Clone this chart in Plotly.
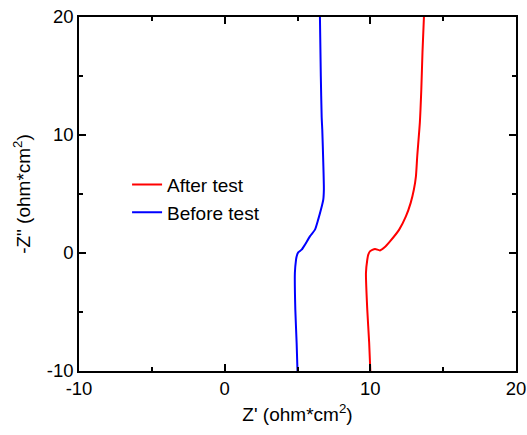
import plotly.graph_objects as go

# After test (red)
after_x = [10.0, 9.92, 9.79, 9.70, 9.79, 9.86, 9.97, 10.32, 10.66, 11.0, 11.35, 11.98,
           12.44, 12.77, 12.99, 13.13, 13.22, 13.40, 13.50, 13.58, 13.68]
after_y = [-10, -7.6, -4.8, -1.7, -0.57, -0.14, 0.14, 0.34, 0.22, 0.5, 0.98, 1.98,
           3.1, 4.25, 5.38, 6.5, 8.2, 11.07, 13.87, 17.0, 20.0]

# Before test (blue)
before_x = [5.0, 4.94, 4.85, 4.82, 4.90, 4.94, 5.05, 5.28, 5.51, 5.85, 6.20, 6.42,
            6.61, 6.77, 6.81, 6.77, 6.70, 6.66, 6.60, 6.54]
before_y = [-10, -7.6, -4.8, -1.7, -0.57, -0.29, 0.05, 0.28, 0.7, 1.41, 1.98, 2.83,
            3.68, 4.53, 5.38, 7.65, 10.48, 11.5, 15.0, 20.0]

x_ticks = [-10, 0, 10, 20]
y_ticks = [-10, 0, 10, 20]

FONT = "Liberation Sans, Arial, sans-serif"

fig = go.Figure()
fig.add_trace(go.Scatter(x=after_x, y=after_y, mode="lines", name="After test",
                         line=dict(color="#FF0000", width=2, shape="spline", smoothing=0.6)))
fig.add_trace(go.Scatter(x=before_x, y=before_y, mode="lines", name="Before test",
                         line=dict(color="#0000FF", width=2, shape="spline", smoothing=0.6)))

axis_common = dict(
    showline=True, linecolor="black", linewidth=1.5, mirror="ticks",
    ticks="inside", ticklen=7, tickwidth=1.5, tickcolor="black",
    showgrid=False, zeroline=False, automargin=False,
    tickfont=dict(family=FONT, size=18.5, color="black"),
    minor=dict(ticks="inside", ticklen=4, tickwidth=1.5, tickcolor="black", dtick=5),
)

fig.update_xaxes(range=[-10, 20], tickvals=x_ticks, ticktext=[str(v) for v in x_ticks],
                 title=dict(text="Z' (ohm*cm<sup>2</sup>)", font=dict(family=FONT, size=19, color="black"),
                            standoff=10),
                 **axis_common)
fig.update_yaxes(range=[-10, 20], tickvals=y_ticks, ticktext=[str(v) for v in y_ticks],
                 title=dict(text='-Z" (ohm*cm<sup>2</sup>)', font=dict(family=FONT, size=19, color="black"),
                            standoff=11),
                 **axis_common)

fig.update_layout(
    width=527, height=435,
    margin=dict(l=79, r=11, t=17, b=64),
    paper_bgcolor="white", plot_bgcolor="white",
    font=dict(family=FONT, color="black"),
    legend=dict(x=0.11, y=0.58, xanchor="left", yanchor="top",
                bgcolor="rgba(0,0,0,0)", font=dict(family=FONT, size=19, color="black"),
                tracegroupgap=0),
    showlegend=True,
)

fig.write_html("out.html", config={"displayModeBar": False},
               post_script="document.body.style.margin='0';")
